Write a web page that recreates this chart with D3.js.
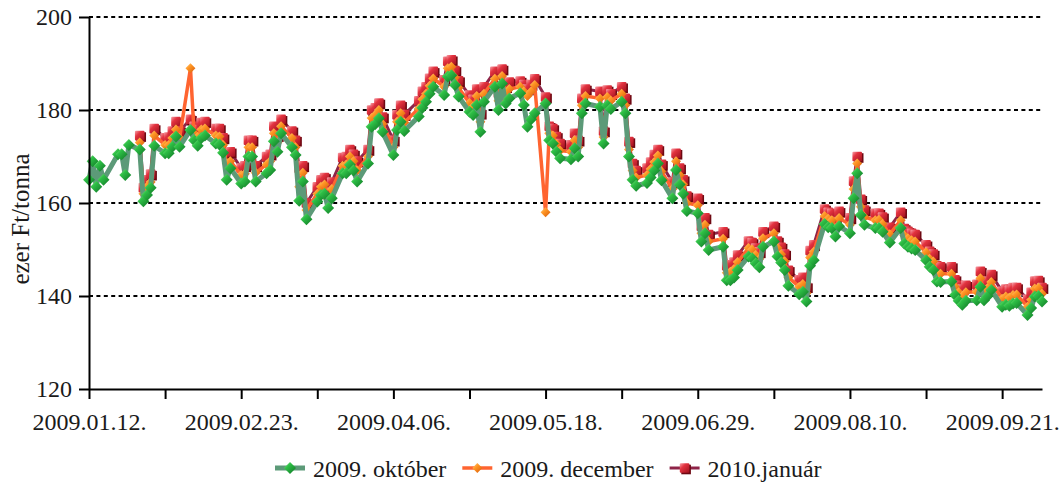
<!DOCTYPE html>
<html>
<head>
<meta charset="utf-8">
<script src="https://cdn.jsdelivr.net/npm/d3@7"></script>
<style>
	body { margin: 0; background: #fff; }
	svg { display: block; font-family: "Liberation Serif", "DejaVu Serif", serif; }
</style>
</head>
<body>
<div id="main"></div>
<script>
// trading days run Mon-Fri from startDate to endDate, one value per weekday (null = no quote)
const startDate = "2009-01-12";
const endDate = "2009-10-02";
const tickDates = [
	"2009-01-12", "2009-02-02", "2009-02-23", "2009-03-16", "2009-04-06",
	"2009-04-27", "2009-05-18", "2009-06-08", "2009-06-29", "2009-07-20",
	"2009-08-10", "2009-08-31", "2009-09-21",
];
const yTicks = [120, 140, 160, 180, 200];
const seriesNames = ["2009. október", "2009. december", "2010.január"];

// 2009. október
const okt = [
	165.0, 169.0, 163.5, 168.0, 165.0,
	null, 170.5, 170.5, 166.0, 172.5,
	171.5, 160.4, 161.7, 163.3, 172.3,
	170.7, 170.7, 172.1, 174.3, 172.1,
	175.7, 173.5, 172.3, 174.0, 174.5,
	172.8, 172.6, 170.8, 165.0, 167.5,
	164.2, 164.6, 170.0, 170.0, 164.6,
	166.4, 167.1, 173.3, 171.0, 175.0,
	172.0, 170.3, 160.5, 164.6, 156.5,
	160.3, 161.7, 162.0, 158.9, 161.0,
	166.4, 166.4, 168.2, 167.0, 164.6,
	168.5, 176.4, 177.0, 178.2, 175.3,
	170.3, 175.7, 177.5, 175.5, null,
	178.6, 180.5, 181.8, 183.5, 185.0,
	183.2, 187.2, 187.5, 185.4, 182.9,
	179.6, 178.9, 181.1, 175.3, 181.8,
	185.0, 180.0, 185.7, 181.4, 182.5,
	183.6, 181.1, 176.4, 178.0, 179.3,
	181.4, 173.5, 172.8, 171.0, 169.6,
	169.4, 171.8, 170.0, 179.3, 181.4,
	null, 180.7, 172.8, 181.0, 180.2,
	181.8, 179.3, 170.0, 165.0, 163.7,
	164.3, 165.5, 167.0, 168.5, 164.9,
	161.0, 167.1, 164.0, 162.0, 158.3,
	157.8, 151.7, 153.5, 149.9, null,
	150.6, 143.4, 143.4, 144.0, 145.6,
	148.5, 148.1, 147.0, 146.2, 150.6,
	151.7, 148.5, 147.2, 145.6, 142.2,
	140.4, 140.9, 138.8, 146.5, 147.7,
	155.5, 154.8, 154.6, 152.8, 155.0,
	153.5, 161.0, 166.4, 157.4, 155.3,
	154.6, 154.6, 153.8, null, 151.5,
	154.6, 151.3, 150.6, 150.2, 149.9,
	147.7, 146.3, 145.6, 143.1, 143.0,
	143.1, 140.2, 139.0, 138.1, 139.0,
	139.1, 142.0, 139.1, 140.0, 141.3,
	137.7, 138.1, 137.9, 138.4, 138.5,
	135.9, 137.4, 139.9, 140.0, 138.8,
];

// 2009. december
const dec = [
	null, null, null, null, null,
	null, null, null, null, null,
	173.0, 162.0, 163.5, 164.5, 174.5,
	172.5, 172.5, 174.0, 175.8, 174.0,
	189.0, 175.0, 174.2, 175.8, 176.0,
	174.5, 174.3, 172.5, 168.5, 169.0,
	166.0, 166.3, 172.0, 172.0, 166.5,
	168.3, 169.0, 175.0, 173.0, 176.5,
	174.0, 172.0, 163.5, 166.5, 158.5,
	162.0, 163.5, 164.0, 160.8, 163.0,
	168.0, 168.3, 170.0, 169.0, 167.0,
	170.0, 178.3, 179.0, 180.0, 177.0,
	172.0, 177.5, 179.3, 177.3, null,
	180.3, 182.3, 183.5, 185.2, 186.8,
	185.0, 189.0, 189.3, 187.0, 184.8,
	181.5, 180.7, 183.0, 177.5, 183.5,
	186.7, 182.0, 187.3, 183.5, 184.5,
	185.0, 184.0, 183.0, 184.0, 185.4,
	158.0, 175.0, 174.5, 172.7, 171.3,
	171.0, 173.5, 172.0, 181.0, 183.0,
	null, 182.5, 174.2, 182.8, 182.0,
	183.5, 181.0, 171.5, 167.0, 165.5,
	166.0, 167.3, 168.8, 170.2, 166.8,
	163.0, 169.0, 166.0, 164.0, 160.0,
	159.5, 153.5, 155.3, 151.7, null,
	152.3, 145.0, 145.2, 145.8, 147.3,
	150.3, 150.0, 148.8, 148.0, 152.4,
	153.5, 150.3, 149.0, 147.5, 144.0,
	142.0, 142.6, 140.6, 148.3, 149.5,
	157.2, 156.6, 156.3, 154.5, 156.8,
	155.3, 163.0, 168.5, 159.2, 157.0,
	156.3, 156.4, 155.5, null, 153.3,
	156.3, 153.0, 152.4, 152.0, 151.7,
	149.4, 148.0, 147.4, 144.9, 144.8,
	144.8, 142.0, 140.8, 139.9, 140.8,
	140.9, 143.8, 140.9, 141.7, 143.0,
	139.4, 139.9, 139.7, 140.2, 140.3,
	137.7, 139.2, 141.6, 141.8, 140.5,
];

// 2010.január
const jan = [
	null, null, null, null, null,
	null, null, null, null, null,
	174.5, 163.3, 165.0, 166.2, 176.0,
	174.0, 174.2, 175.5, 177.5, 175.5,
	178.0, 176.5, 175.8, 177.3, 177.5,
	176.0, 176.0, 174.0, 170.5, 171.0,
	167.5, 168.0, 173.5, 173.5, 168.0,
	170.0, 170.5, 176.5, 174.5, 178.0,
	175.5, 173.5, 167.5, 168.0, 160.0,
	163.5, 165.0, 165.5, 162.5, 164.5,
	169.8, 170.0, 171.5, 170.5, 169.0,
	171.5, 180.0, 180.5, 181.5, 178.5,
	173.5, 179.0, 181.0, 179.0, null,
	182.0, 184.0, 185.0, 186.8, 188.3,
	186.5, 190.5, 190.8, 188.5, 186.3,
	183.2, 182.3, 184.5, 179.3, 185.0,
	188.3, 183.6, 188.8, 185.0, 186.0,
	186.2, 185.5, 184.5, 185.5, 186.7,
	182.8, 176.5, 176.0, 174.3, 172.8,
	172.5, 175.0, 173.5, 182.5, 184.5,
	null, 184.0, 175.5, 184.3, 183.5,
	185.0, 182.5, 173.2, 168.5, 167.0,
	167.5, 168.8, 170.4, 171.5, 168.3,
	164.5, 170.7, 167.5, 165.0, 161.5,
	161.0, 155.0, 156.8, 153.2, null,
	153.8, 146.5, 146.7, 147.3, 148.8,
	151.8, 151.5, 150.3, 149.5, 153.8,
	155.0, 151.8, 150.5, 149.0, 145.5,
	143.5, 144.0, 142.0, 149.8, 151.0,
	158.7, 158.0, 157.8, 156.0, 158.2,
	156.8, 164.7, 170.0, 160.8, 158.5,
	157.8, 157.8, 157.0, null, 154.8,
	158.0, 154.5, 153.9, 153.5, 153.2,
	151.0, 149.6, 149.0, 146.5, 146.3,
	146.3, 143.5, 142.3, 141.5, 142.3,
	142.5, 145.3, 142.5, 143.2, 144.6,
	141.0, 141.5, 141.3, 141.8, 141.8,
	139.3, 140.8, 143.2, 143.3, 141.8,
];

const sizes = { width: 1060, height: 483, left: 89, right: 1042, top: 17, bottom: 389 };
const parse = d3.utcParse("%Y-%m-%d");
const fmt = d3.utcFormat("%Y.%m.%d.");

const days = d3
	.utcDays(parse(startDate), d3.utcDay.offset(parse(endDate), 1))
	.filter((d) => d.getUTCDay() !== 0 && d.getUTCDay() !== 6);

const x = d3
	.scaleUtc()
	.domain([parse(startDate), parse(endDate)])
	.range([sizes.left, sizes.right]);
const y = d3.scaleLinear().domain([120, 200]).range([sizes.bottom, sizes.top]);

const svg = d3
	.select("#main")
	.append("svg")
	.attr("width", sizes.width)
	.attr("height", sizes.height);

const defs = svg.append("defs");
const gradient = (id, stops) => {
	const g = defs
		.append("linearGradient")
		.attr("id", id)
		.attr("x1", 0)
		.attr("y1", 0)
		.attr("x2", 1)
		.attr("y2", 1);
	stops.forEach((s) => g.append("stop").attr("offset", s[0]).attr("stop-color", s[1]));
};
gradient("gGreen", [[0, "#9af292"], [0.35, "#2ebf46"], [1, "#0e7424"]]);
gradient("gOrange", [[0, "#ffd58a"], [0.4, "#ff9624"], [1, "#d5580a"]]);
gradient("gRed", [[0, "#f8a4ac"], [0.35, "#e33340"], [1, "#a0101d"]]);

const series = [
	{ name: seriesNames[0], values: okt, line: "#5c9a78", width: 5, marker: "diamond", fill: "url(#gGreen)", size: 6 },
	{ name: seriesNames[1], values: dec, line: "#ff6430", width: 3.5, marker: "diamond", fill: "url(#gOrange)", size: 5 },
	{ name: seriesNames[2], values: jan, line: "#8e2448", width: 3, marker: "square", fill: "url(#gRed)", size: 4.8 },
];
series.forEach((s) => {
	s.points = days
		.map((d, i) => ({ date: d, v: s.values[i] }))
		.filter((p) => p.v !== null && p.v !== undefined);
});

// grid
svg.append("g")
	.selectAll("line")
	.data(yTicks.filter((t) => t > 120))
	.enter()
	.append("line")
	.attr("x1", sizes.left)
	.attr("x2", sizes.right)
	.attr("y1", (d) => y(d))
	.attr("y2", (d) => y(d))
	.style("stroke", "#000")
	.style("stroke-width", 2)
	.style("stroke-dasharray", "4,3.4");

const drawMarker = (sel, s) => {
	const r = s.size;
	if (s.marker === "diamond") {
		sel.append("path")
			.attr("d", `M0,${-r}L${r},0L0,${r}L${-r},0Z`)
			.style("fill", s.fill);
	} else {
		// little 3d block: dark side face behind the front square
		sel.append("rect")
			.attr("x", -r + 1.5)
			.attr("y", -r + 1.5)
			.attr("width", r * 2)
			.attr("height", r * 2)
			.style("fill", "#6e0812");
		sel.append("rect")
			.attr("x", -r)
			.attr("y", -r)
			.attr("width", r * 2)
			.attr("height", r * 2)
			.attr("rx", 1)
			.style("fill", s.fill);
	}
};

const line = d3
	.line()
	.x((d) => x(d.date))
	.y((d) => y(d.v));

const plot = svg.append("g");
series
	.slice()
	.reverse()
	.forEach((s) => {
		const g = plot.append("g");
		g.append("path")
			.datum(s.points)
			.attr("d", line)
			.style("fill", "none")
			.style("stroke", s.line)
			.style("stroke-width", s.width)
			.style("stroke-linejoin", "round");
		g.selectAll("g.m")
			.data(s.points)
			.enter()
			.append("g")
			.classed("m", true)
			.attr("transform", (d) => `translate(${x(d.date)},${y(d.v)})`)
			.each(function () {
				drawMarker(d3.select(this), s);
			});
	});

// axes
const yAxis = svg
	.append("g")
	.attr("transform", `translate(${sizes.left},0)`)
	.call(d3.axisLeft(y).tickValues(yTicks).tickSize(10).tickSizeOuter(0).tickPadding(7));
const xAxis = svg
	.append("g")
	.attr("transform", `translate(0,${sizes.bottom})`)
	.call(
		d3
			.axisBottom(x)
			.tickValues(tickDates.map(parse))
			.tickSize(10)
			.tickSizeOuter(0)
			.tickPadding(14)
			.tickFormat((d, i) => (i % 2 === 0 ? fmt(d) : ""))
	);
[yAxis, xAxis].forEach((a) => {
	a.selectAll("path, line").style("stroke", "#000").style("stroke-width", 2);
	a.selectAll("text")
		.style("font-family", '"Liberation Serif", serif')
		.style("font-size", "24px")
		.style("fill", "#1a1a1a");
});

svg.append("text")
	.attr("transform", "translate(29,219) rotate(-90)")
	.attr("text-anchor", "middle")
	.style("font-size", "25px")
	.style("fill", "#1a1a1a")
	.text("ezer Ft/tonna");

// legend
const legend = svg.append("g").attr("transform", "translate(275,468)");
let lx = 0;
series.forEach((s) => {
	const item = legend.append("g").attr("transform", `translate(${lx},0)`);
	item.append("line")
		.attr("x1", 0)
		.attr("x2", 30)
		.style("stroke", s.line)
		.style("stroke-width", s.width);
	const m = item.append("g").attr("transform", "translate(15,0)");
	drawMarker(m, s);
	const t = item
		.append("text")
		.attr("x", 38)
		.attr("y", 9)
		.style("font-size", "24px")
		.style("fill", "#1a1a1a")
		.text(s.name);
	lx += 38 + t.node().getComputedTextLength() + 16;
});
</script>
</body>
</html>
